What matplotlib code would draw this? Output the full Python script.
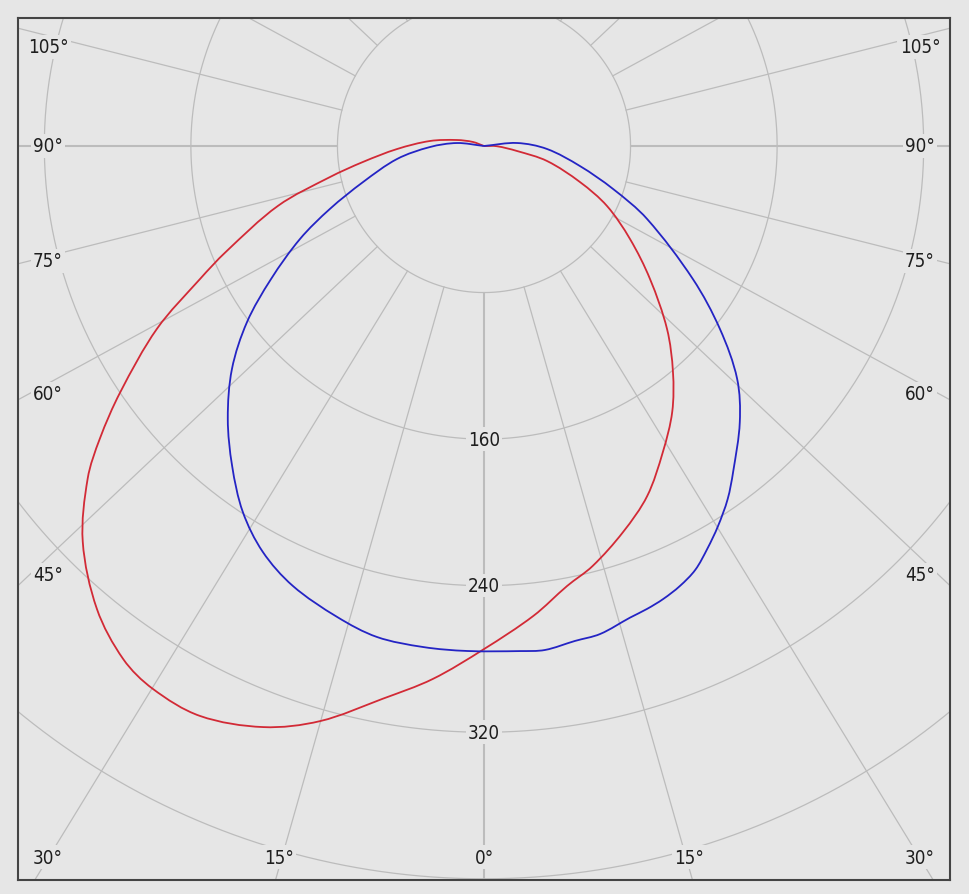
import numpy as np
import matplotlib.pyplot as plt
from matplotlib.path import Path
from matplotlib.patches import PathPatch

# luminous intensity (cd/klm), signed gamma: negative = left half
red_gamma = [-118, -110, -102.5, -95.3, -88.0, -82.5, -78.6, -73.8, -67.7, -64.9, -60.8,
             -55.9, -52.7, -50.0, -45.4, -39.9, -35.1, -31.4, -26.5, -20.8, -15.9, -10.4,
             -5.5, 0, 6.0, 10.7, 14.5, 19.8, 25.0, 30.3, 35.3, 39.9, 45.0, 51.3, 57.5,
             64.0, 69.4, 76.6, 81.4, 89, 100]
red_cd = [0, 6.4, 15.1, 29.6, 47.5, 66.6, 85.8, 117.1, 152.3, 171.2, 204.5,
          239.8, 263.6, 282.4, 307.6, 329.4, 342.4, 347.1, 347.6, 339.3, 326.4, 306.8,
          292.3, 274.6, 257.9, 244.4, 236.8, 224.0, 210.8, 193.5, 177.8, 160.8, 141.3, 116.1, 94.5,
          74.7, 56.0, 35.4, 18.2, 7, 0]

blue_gamma = [-104, -96.3, -88.9, -81.5, -73.4, -67.8, -63.2, -58.0, -53.4, -48.5, -43.2,
              -38.2, -33.4, -28.6, -23.5, -17.3, -12.3, -6.9, -1.9, 4.1, 6.9, 10.4, 13.4,
              17.2, 19.4, 21.6, 24.0, 26.5, 29.0, 31.6, 34.6, 37.4, 42.8, 47.4, 52.2, 57.5,
              65.9, 71.6, 78.2, 87.3, 95.2, 104]
blue_cd = [0, 14.8, 29.5, 48.0, 68.9, 90.8, 112.5, 137.1, 161.1, 183.7, 204.3,
           222.3, 239.2, 252.3, 261.8, 269.3, 274.3, 275.5, 275.8, 276.4, 277.1, 274.7, 273.8,
           269.5, 267.9, 265.9, 262.9, 258.5, 251.4, 243.7, 234.2, 223.9, 205.5, 187.7, 163.0, 135.2,
           97.5, 74.2, 53.5, 34.4, 18.1, 0]

ring_values = [80, 160, 240, 320, 400]
ring_labels = [160, 240, 320]
angle_labels = [0, 15, 30, 45, 60, 75, 90, 105]
spoke_step = 15

bg = '#e6e6e6'
grid_c = '#bcbcbc'
txt_c = '#1e1e1e'
k = 1.832  # px per cd/klm in the 969x895 output
x_lo, x_hi = (18 - 484) / k, (950 - 484) / k
y_lo, y_hi = (147 - 881) / k, (147 - 19) / k
stretch = 1.06  # spokes of the original sit slightly wider than their nominal angle


def spoke_dir(a):
    a = np.radians(a)
    ang = np.arctan2(stretch * np.sin(a), np.cos(a))
    return np.sin(ang), -np.cos(ang)


def smooth_path(x, y):
    # bezier through the read points, tangents weighted by segment length
    P = np.column_stack([x, y])
    P = np.vstack([P[0], P, P[-1]])
    d = np.hypot(*np.diff(P, axis=0).T) + 1e-9
    verts, codes = [P[1]], [Path.MOVETO]
    for i in range(1, len(P) - 2):
        p0, p1, p2, p3 = P[i - 1], P[i], P[i + 1], P[i + 2]
        c1 = p1 + (p2 - p0) * d[i] / (d[i - 1] + d[i]) / 3
        c2 = p2 - (p3 - p1) * d[i] / (d[i] + d[i + 1]) / 3
        verts += [c1, c2, p2]
        codes += [Path.CURVE4] * 3
    return Path(verts, codes)


fig = plt.figure(figsize=(9.69, 8.95), dpi=100, facecolor=bg)
ax = fig.add_axes([18 / 969, 14 / 895, 932 / 969, 862 / 895])
ax.set_facecolor(bg)
ax.set_xlim(x_lo, x_hi)
ax.set_ylim(y_lo, y_hi)
ax.set_xticks([])
ax.set_yticks([])
for sp in ax.spines.values():
    sp.set_color('#444444')
    sp.set_linewidth(1.5)

# rings
t = np.linspace(0, 2 * np.pi, 721)
for r in ring_values:
    ax.plot(r * np.sin(t), r * np.cos(t), color=grid_c, lw=0.9, zorder=1)

# spokes from the first ring outwards
for a in range(0, 360, spoke_step):
    dx, dy = spoke_dir(a)
    main = a % 90 == 0 and a != 180
    ax.plot([80 * dx, 800 * dx], [80 * dy, 800 * dy], color=grid_c,
            lw=1.5 if main else 0.9, zorder=1)

font = dict(family='DejaVu Sans', fontstretch='condensed', fontsize=13.5, color=txt_c)
box = dict(boxstyle='square,pad=0.12', fc=bg, ec='none')

for r in ring_labels:
    ax.text(0, -r, str(r), ha='center', va='center', bbox=box, zorder=3, **font)

# angle labels where the spokes leave the frame
ins = 12 / k
cx_lim = x_hi - 30 / k
cy_lo, cy_hi = y_lo + 23 / k, y_hi - 29 / k
for a in angle_labels:
    for side in ([1] if a == 0 else [-1, 1]):
        dx, dy = spoke_dir(a)
        dx *= side
        ts = []
        if dx > 0:
            ts.append((x_hi - ins) / dx)
        if dx < 0:
            ts.append((x_lo + ins) / dx)
        if dy > 0:
            ts.append((y_hi - ins) / dy)
        if dy < 0:
            ts.append((y_lo + ins) / dy)
        tt = min(ts)
        px = np.clip(tt * dx, -cx_lim, cx_lim)
        py = np.clip(tt * dy, cy_lo, cy_hi)
        ax.text(px, py, f'{a}\u00b0', ha='center', va='center', bbox=box, zorder=3, **font)

# curves
for g, I, col in [(red_gamma, red_cd, '#d22a36'), (blue_gamma, blue_cd, '#2424c4')]:
    g = np.radians(np.array(g))
    I = np.array(I)
    path = smooth_path(I * np.sin(g), -I * np.cos(g))
    ax.add_patch(PathPatch(path, fc='none', ec=col, lw=1.3, zorder=4))

fig.savefig('out.png', dpi=100, facecolor=bg)
